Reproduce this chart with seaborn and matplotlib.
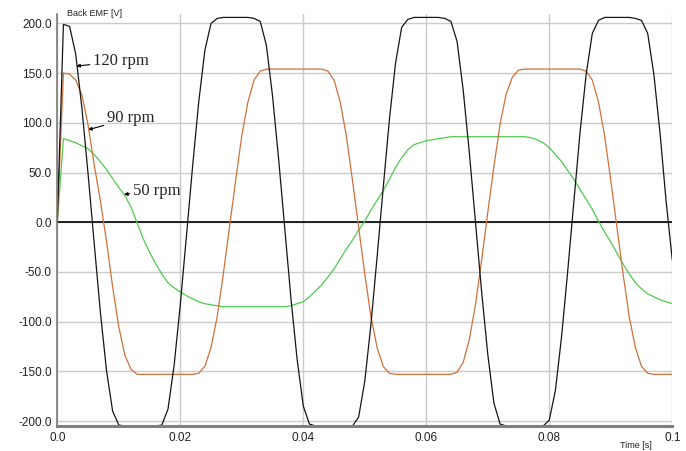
import pandas as pd
import matplotlib
matplotlib.use("Agg")
import matplotlib.pyplot as plt
import seaborn as sns

# Back EMF vs time for three speeds (1 ms steps)
time_ms = list(range(0, 101))

emf_120 = [0, 199, 197, 169, 115, 49, -21, -90, -149, -190, -204,
           -205, -205, -205, -205, -205, -205, -204, -188, -144, -83,
           -14, 56, 121, 173, 200, 205, 206, 206, 206, 206,
           206, 205, 202, 178, 127, 63, -7, -77, -138, -185,
           -203, -205, -205, -205, -205, -205, -205, -205, -196, -160,
           -103, -35, 35, 103, 160, 196, 204, 206, 206, 206,
           206, 206, 205, 202, 182, 133, 70, 0, -70, -133,
           -182, -203, -205, -205, -205, -205, -205, -205, -205, -199,
           -169, -115, -49, 21, 90, 149, 190, 203, 206, 206,
           206, 206, 206, 205, 203, 190, 149, 90, 21, -38]

emf_90 = [0, 150, 149, 143, 128, 98, 58, 22, -19, -65, -105,
          -134, -148, -153, -153, -153, -153, -153, -153, -153, -153,
          -153, -153, -152, -145, -126, -95, -52, -5, 42, 87,
          121, 143, 152, 154, 154, 154, 154, 154, 154, 154,
          154, 154, 154, 152, 143, 121, 87, 42, -5, -52,
          -95, -126, -145, -152, -153, -153, -153, -153, -153, -153,
          -153, -153, -153, -153, -151, -141, -118, -83, -38, 10,
          56, 99, 129, 146, 153, 154, 154, 154, 154, 154,
          154, 154, 154, 154, 154, 152, 143, 121, 87, 42,
          -5, -52, -95, -126, -145, -152, -153, -153, -153, -153]

emf_50 = [0, 84, 82, 80, 77, 74, 68, 61, 53, 44, 35,
          27, 15, -1, -17, -30, -42, -52, -61, -66, -70,
          -74, -77, -80, -82, -83, -84, -85, -85, -85, -85,
          -85, -85, -85, -85, -85, -85, -85, -84, -82, -80,
          -75, -69, -63, -55, -47, -37, -27, -18, -8, 1,
          12, 22, 32, 43, 55, 65, 73, 78, 80, 82,
          83, 84, 85, 86, 86, 86, 86, 86, 86, 86,
          86, 86, 86, 86, 86, 86, 85, 83, 80, 75,
          68, 61, 52, 43, 33, 23, 13, 1, -10, -20,
          -31, -42, -52, -61, -67, -72, -75, -78, -80, -82]

speeds = ["50 rpm", "90 rpm", "120 rpm"]
speed_colors = {"50 rpm": "#4fca4f", "90 rpm": "#d0703a", "120 rpm": "#151515"}

x_ticks = [0.0, 0.02, 0.04, 0.06, 0.08, 0.1]
x_tick_labels = ["0.0", "0.02", "0.04", "0.06", "0.08", "0.1"]
y_ticks = [-200, -150, -100, -50, 0, 50, 100, 150, 200]

# label text, point on curve (t, V), text anchor (t, V)
labels = [("120 rpm", (0.0031, 157), (0.0058, 162)),
          ("90 rpm", (0.00504, 93), (0.0081, 105)),
          ("50 rpm", (0.01085, 28), (0.0123, 31))]

df = pd.DataFrame({
    "time": [t / 1000 for t in time_ms] * 3,
    "emf": emf_50 + emf_90 + emf_120,
    "speed": ["50 rpm"] * len(time_ms) + ["90 rpm"] * len(time_ms) + ["120 rpm"] * len(time_ms),
})

sns.set_style("white")
plt.rcParams['font.family'] = ['Liberation Sans', 'DejaVu Sans']
plt.rcParams['axes.unicode_minus'] = False

fig = plt.figure(figsize=(6.86, 4.51), dpi=100)
ax = fig.add_axes([0.0835, 0.0554, 0.8965, 0.9126])

ax.grid(True, color="#cbcbcb", linewidth=1.0)
ax.set_axisbelow(True)
ax.axhline(0, color="black", linewidth=1.2, zorder=1.5)

sns.lineplot(data=df, x="time", y="emf", hue="speed", hue_order=speeds,
             palette=speed_colors, linewidth=0.9, legend=False, ax=ax)

ax.set_xlim(0, 0.1)
ax.set_ylim(-205, 209)
ax.set_xticks(x_ticks)
ax.set_xticklabels(x_tick_labels)
ax.set_yticks(y_ticks)
ax.set_yticklabels([f"{v:.1f}" for v in y_ticks])
ax.tick_params(length=0, pad=4, labelsize=8.5, labelcolor="#222222")
ax.set_xlabel("")
ax.set_ylabel("")

for s in ["top", "right"]:
    ax.spines[s].set_visible(False)
ax.spines["left"].set_color("#7a7a7a")
ax.spines["left"].set_linewidth(1.2)
ax.spines["bottom"].set_color("#808080")
ax.spines["bottom"].set_linewidth(2.2)

for text, pt, txt in labels:
    ax.annotate(text, xy=pt, xytext=txt, ha="left", va="center",
                fontsize=12, family=["Liberation Serif", "DejaVu Serif"],
                arrowprops=dict(arrowstyle="-|>", color="black", lw=0.8,
                                mutation_scale=5, shrinkA=0, shrinkB=0))

fig.text(67 / 686, 1 - 14 / 451, "Back EMF [V]", fontsize=6.5, va="center", ha="left", color="#222222")
fig.text(620 / 686, 1 - 445 / 451, "Time [s]", fontsize=6.5, va="center", ha="left", color="#222222")

fig.savefig("out.png", dpi=100)
